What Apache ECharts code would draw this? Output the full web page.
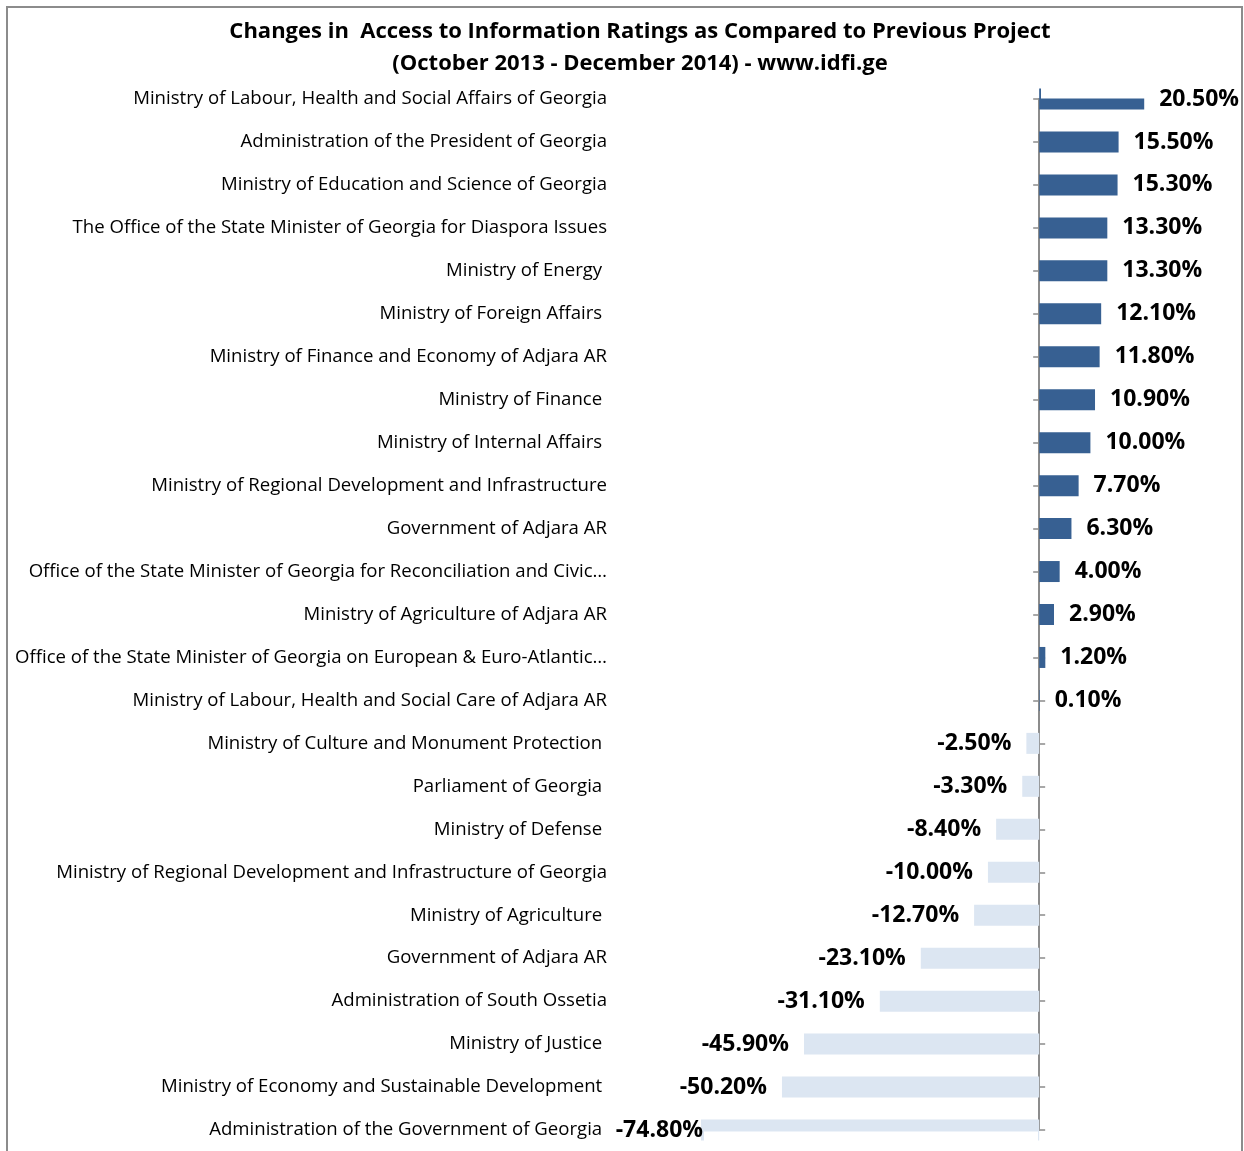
<!DOCTYPE html>
<html>
<head>
<meta charset="utf-8">
<script src="https://cdn.jsdelivr.net/npm/echarts@6/dist/echarts.min.js"></script>
<style>
html,body{margin:0;padding:0;background:#fff;}
#chart{width:1244px;height:1151px;}
</style>
</head>
<body>
<div id="chart"></div>
<script>
const titleLines = [
  "Changes in  Access to Information Ratings as Compared to Previous Project",
  "(October 2013 - December 2014) - www.idfi.ge"
];
const categories = [
  "Ministry of Labour, Health and Social Affairs of Georgia",
  "Administration of the President of Georgia",
  "Ministry of Education and Science of Georgia",
  "The Office of the State Minister of Georgia for Diaspora Issues",
  "Ministry of Energy ",
  "Ministry of Foreign Affairs ",
  "Ministry of Finance and Economy of Adjara AR",
  "Ministry of Finance ",
  "Ministry of Internal Affairs ",
  "Ministry of Regional Development and Infrastructure",
  "Government of Adjara AR",
  "Office of the State Minister of Georgia for Reconciliation and Civic…",
  "Ministry of Agriculture of Adjara AR",
  "Office of the State Minister of Georgia on European & Euro-Atlantic…",
  "Ministry of Labour, Health and Social Care of Adjara AR",
  "Ministry of Culture and Monument Protection ",
  "Parliament of Georgia ",
  "Ministry of Defense ",
  "Ministry of Regional Development and Infrastructure of Georgia",
  "Ministry of Agriculture ",
  "Government of Adjara AR",
  "Administration of South Ossetia",
  "Ministry of Justice ",
  "Ministry of Economy and Sustainable Development ",
  "Administration of the Government of Georgia "
];
const changes = [20.5, 15.5, 15.3, 13.3, 13.3, 12.1, 11.8, 10.9, 10.0, 7.7, 6.3, 4.0, 2.9, 1.2, 0.1,
  -2.5, -3.3, -8.4, -10.0, -12.7, -23.1, -31.1, -45.9, -50.2, -74.8];

const X_MIN = -66, X_MAX = 39;
const POS_COLOR = '#376092', NEG_COLOR = '#dce6f2';
const FONT = '"Open Sans", "Liberation Sans", sans-serif';

const seriesData = changes.map(v => {
  const clipped = v < X_MIN;
  return {
    value: v,
    itemStyle: { color: v >= 0 ? POS_COLOR : NEG_COLOR },
    label: { position: v >= 0 ? 'right' : 'left', distance: clipped ? -2 : 15 }
  };
});

const chart = echarts.init(document.getElementById('chart'), null, { renderer: 'canvas' });
chart.setOption({
  animation: false,
  backgroundColor: '#fff',
  title: {
    text: titleLines.join('\n'),
    left: 635, top: 11, textAlign: 'center',
    textStyle: { fontFamily: FONT, fontWeight: 'bold', fontSize: 22, color: '#000', lineHeight: 32 }
  },
  graphic: [{
    type: 'rect', silent: true, z: -1,
    shape: { x: 7, y: 7, width: 1235, height: 1170 },
    style: { fill: 'none', stroke: '#8c8c8c', lineWidth: 2 }
  }, {
    // plot-area clipping mask above the first category
    type: 'rect', silent: true, z: 50,
    shape: { x: 1041, y: 80, width: 110, height: 18.5 },
    style: { fill: '#fff' }
  }, {
    // plot-area clipping mask below the last category
    type: 'rect', silent: true, z: 50,
    shape: { x: 704, y: 1131.5, width: 334, height: 19.5 },
    style: { fill: '#fff' }
  }],
  grid: { left: 701, right: 5, top: 99, bottom: 21, containLabel: false, outerBoundsMode: 'none' },
  xAxis: { type: 'value', min: X_MIN, max: X_MAX, show: false },
  yAxis: [{
    type: 'category', data: categories, inverse: true, boundaryGap: false,
    position: 'left',
    axisLine: { onZero: true, onZeroAxisIndex: 0, lineStyle: { color: '#8c8c8c', width: 2 } },
    axisTick: { show: true, length: 6, lineStyle: { color: '#8c8c8c', width: 1.5 } },
    axisLabel: { margin: 94, fontFamily: FONT, fontSize: 18.6, color: '#000', interval: 0 },
    splitLine: { show: false }
  }, {
    type: 'category', data: categories, inverse: true, boundaryGap: false,
    position: 'right',
    axisLine: { onZero: true, onZeroAxisIndex: 0, show: false },
    axisTick: { show: true, length: 6, lineStyle: { color: '#8c8c8c', width: 1.5 } },
    axisLabel: { show: false },
    splitLine: { show: false }
  }],
  series: [{
    type: 'bar', yAxisIndex: 0, barWidth: 21, clip: true,
    data: seriesData,
    label: {
      show: true, fontFamily: FONT, fontWeight: 'bold', fontSize: 23, color: '#000',
      formatter: p => p.value.toFixed(2) + '%'
    }
  }]
});
</script>
</body>
</html>
